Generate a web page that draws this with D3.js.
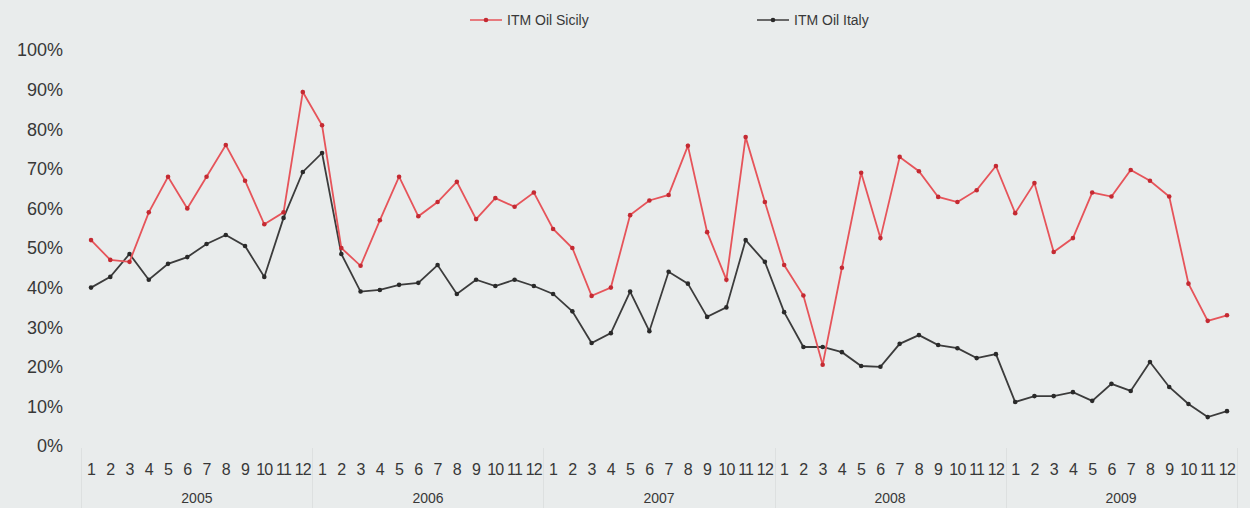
<!DOCTYPE html>
<html>
<head>
<meta charset="utf-8">
<script src="https://cdn.jsdelivr.net/npm/d3@7"></script>
<style>
  body { margin: 0; background: #e9ecec; }
  svg { display: block; font-family: "Liberation Sans", Arial, sans-serif; }
</style>
</head>
<body>
<svg id="chart" width="1250" height="508"></svg>
<script>
// data
const years = ["2005", "2006", "2007", "2008", "2009"]
const months = ["1", "2", "3", "4", "5", "6", "7", "8", "9", "10", "11", "12"]
const yTicks = [0, 0.1, 0.2, 0.3, 0.4, 0.5, 0.6, 0.7, 0.8, 0.9, 1.0]

const sicily = [
    0.52, 0.47, 0.465, 0.59, 0.68, 0.60, 0.68, 0.76, 0.67, 0.56, 0.59, 0.894,
    0.81, 0.50, 0.455, 0.57, 0.68, 0.58, 0.616, 0.667, 0.573, 0.626, 0.604, 0.64,
    0.548, 0.50, 0.379, 0.40, 0.583, 0.62, 0.634, 0.758, 0.54, 0.42, 0.78, 0.616,
    0.457, 0.38, 0.205, 0.45, 0.69, 0.525, 0.73, 0.694, 0.629, 0.616, 0.646, 0.707,
    0.588, 0.664, 0.49, 0.525, 0.64, 0.63, 0.697, 0.67, 0.63, 0.41, 0.316, 0.33
]
const italy = [
    0.40, 0.427, 0.485, 0.42, 0.46, 0.477, 0.51, 0.533, 0.505, 0.427, 0.576, 0.692,
    0.74, 0.485, 0.39, 0.394, 0.407, 0.412, 0.457, 0.384, 0.42, 0.404, 0.42, 0.404,
    0.384, 0.34, 0.26, 0.285, 0.39, 0.29, 0.44, 0.41, 0.326, 0.35, 0.52, 0.465,
    0.338, 0.25, 0.25, 0.237, 0.202, 0.20, 0.258, 0.28, 0.255, 0.247, 0.222, 0.232,
    0.111, 0.126, 0.126, 0.136, 0.114, 0.157, 0.139, 0.212, 0.149, 0.106, 0.073, 0.088
]

const seriesNames = ["ITM Oil Sicily", "ITM Oil Italy"]
const colors = ["#e6545a", "#3c3c3c"]
const dotColors = ["#c42a32", "#2a2a2a"]

const svg = d3.select("#chart")

const labels = []
years.forEach(y => months.forEach(m => labels.push(y + "-" + m)))

const x = d3.scaleBand().domain(labels).range([81.4, 1236.6])
const cx = d => x(d) + x.bandwidth() / 2
const y = d3.scaleLinear().domain([0, 1]).range([446, 50])

// faint band separators under the axis
const sep = svg.append("g").attr("stroke", "#dde0e0").attr("stroke-width", 1)
for (let i = 0; i <= years.length; i++) {
    const px = i < years.length ? x(labels[i * 12]) : x.range()[1]
    sep.append("line")
        .attr("x1", Math.round(px) + 0.5).attr("x2", Math.round(px) + 0.5)
        .attr("y1", 448).attr("y2", 508)
}

// y axis labels
svg.append("g").selectAll("text")
    .data(yTicks)
    .enter().append("text")
    .attr("x", 63)
    .attr("y", d => y(d))
    .attr("dy", "0.35em")
    .attr("text-anchor", "end")
    .attr("font-size", 18)
    .attr("fill", "#383838")
    .text(d3.format(".0%"))

// month labels
svg.append("g").selectAll("text")
    .data(labels)
    .enter().append("text")
    .attr("x", d => cx(d))
    .attr("y", 469)
    .attr("dy", "0.35em")
    .attr("text-anchor", "middle")
    .attr("font-size", 16)
    .attr("letter-spacing", -0.8)
    .attr("fill", "#383838")
    .text(d => d.split("-")[1])

// year labels
svg.append("g").selectAll("text")
    .data(years)
    .enter().append("text")
    .attr("x", (d, i) => (cx(labels[i * 12]) + cx(labels[i * 12 + 11])) / 2)
    .attr("y", 498)
    .attr("dy", "0.35em")
    .attr("text-anchor", "middle")
    .attr("font-size", 14)
    .attr("fill", "#383838")
    .text(d => d)

const line = d3.line()
    .x((d, i) => cx(labels[i]))
    .y(d => y(d))

;[italy, sicily].forEach((data, k) => {
    const s = k === 0 ? 1 : 0
    svg.append("path")
        .datum(data)
        .attr("fill", "none")
        .attr("stroke", colors[s])
        .attr("stroke-width", 1.8)
        .attr("d", line)
    svg.append("g").selectAll("circle")
        .data(data)
        .enter().append("circle")
        .attr("cx", (d, i) => cx(labels[i]))
        .attr("cy", d => y(d))
        .attr("r", 2.3)
        .attr("fill", dotColors[s])
})

// legend
const legendX = [470, 757]
seriesNames.forEach((name, i) => {
    const g = svg.append("g").attr("transform", "translate(" + legendX[i] + ",20)")
    g.append("line").attr("x1", 0).attr("x2", 32).attr("y1", 0).attr("y2", 0)
        .attr("stroke", colors[i]).attr("stroke-width", 1.5)
    g.append("circle").attr("cx", 16).attr("cy", 0).attr("r", 2.3).attr("fill", dotColors[i])
    g.append("text").attr("x", 37).attr("y", 0).attr("dy", "0.35em")
        .attr("font-size", 14).attr("fill", "#383838").text(name)
})
</script>
</body>
</html>
